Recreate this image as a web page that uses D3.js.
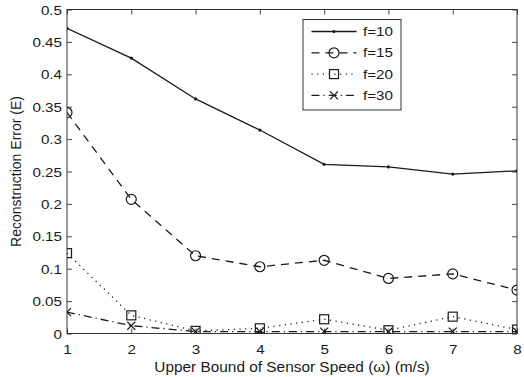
<!DOCTYPE html>
<html><head><meta charset="utf-8">
<script src="https://cdn.jsdelivr.net/npm/d3@7"></script>
<style>body{margin:0;background:#fff}svg{display:block}text{font-family:"Liberation Sans",Arial,Helvetica,sans-serif;fill:#1a1a1a}</style>
</head><body><svg id="c" width="524" height="377"></svg>
<script>
const xValues = [1, 2, 3, 4, 5, 6, 7, 8];
const f10 = [0.471, 0.425, 0.362, 0.314, 0.261, 0.257, 0.246, 0.251];
const f15 = [0.341, 0.207, 0.120, 0.103, 0.113, 0.085, 0.092, 0.067];
const f20 = [0.124, 0.028, 0.004, 0.008, 0.022, 0.005, 0.026, 0.006];
const f30 = [0.033, 0.012, 0.003, 0.003, 0.003, 0.003, 0.003, 0.003];
const seriesNames = ["f=10", "f=15", "f=20", "f=30"];
const xTicks = [1, 2, 3, 4, 5, 6, 7, 8];
const yTicks = [0, 0.05, 0.1, 0.15, 0.2, 0.25, 0.3, 0.35, 0.4, 0.45, 0.5];
const xLabel = "Upper Bound of Sensor Speed (\u03c9) (m/s)";
const yLabel = "Reconstruction Error (E)";

const series = [
  {name: seriesNames[0], values: f10, dash: null, marker: "dot"},
  {name: seriesNames[1], values: f15, dash: "8,6", marker: "circle"},
  {name: seriesNames[2], values: f20, dash: "1.2,4.5", marker: "square"},
  {name: seriesNames[3], values: f30, dash: "8,4,1.2,4", marker: "x"}
];

const L = 67, R = 517, T = 9.5, B = 333.5;
const SX = 1.17; // horizontal stretch of the reference's lettering
const svg = d3.select("#c");
const x = d3.scaleLinear().domain([1, 8]).range([L, R]);
const y = d3.scaleLinear().domain([0, 0.5]).range([B, T]);
const ink = "#1a1a1a";

svg.append("defs").append("clipPath").attr("id", "clip")
  .append("rect").attr("x", L).attr("y", T).attr("width", R - L).attr("height", B - T);

const fmt = d => d === 0 ? "0" : String(+d.toFixed(2));

// axes
const gx = svg.append("g").attr("transform", `translate(0,${B})`)
  .call(d3.axisBottom(x).tickValues(xTicks).tickSize(-5).tickPadding(11.5).tickFormat(d3.format("d")));
const gxt = svg.append("g").attr("transform", `translate(0,${T})`)
  .call(d3.axisTop(x).tickValues(xTicks).tickSize(-5).tickFormat(""));
const gy = svg.append("g").attr("transform", `translate(${L},0)`)
  .call(d3.axisLeft(y).tickValues(yTicks).tickSize(-5).tickPadding(5).tickFormat(fmt));
const gyr = svg.append("g").attr("transform", `translate(${R},0)`)
  .call(d3.axisRight(y).tickValues(yTicks).tickSize(-5).tickFormat(""));
[gx, gxt, gy, gyr].forEach(g => {
  g.select(".domain").remove();
  g.selectAll(".tick line").attr("stroke", "#333").attr("stroke-width", 0.9);
  g.selectAll("text").attr("font-size", 13).attr("fill", ink)
    .style("font-family", '"Liberation Sans",Arial,sans-serif');
});
gy.selectAll("text").attr("dy", "0.35em").attr("x", -5 / SX).attr("transform", `scale(${SX},1)`);
gx.selectAll("text").attr("dy", "0.71em").attr("transform", `scale(${SX},1)`);

svg.append("rect").attr("x", L).attr("y", T).attr("width", R - L).attr("height", B - T)
  .attr("fill", "none").attr("stroke", "#333").attr("stroke-width", 1);

// labels
svg.append("text").attr("transform", `translate(${(L + R) / 2},371.5) scale(1.1,1)`)
  .attr("text-anchor", "middle").attr("font-size", 14).text(xLabel);
svg.append("text").attr("transform", `translate(21,${(T + B) / 2}) rotate(-90)`)
  .attr("text-anchor", "middle").attr("font-size", 14).text(yLabel);

function drawMarker(g, type, cx, cy) {
  if (type === "dot") {
    g.append("circle").attr("cx", cx).attr("cy", cy).attr("r", 1.6).attr("fill", ink);
  } else if (type === "circle") {
    g.append("circle").attr("cx", cx).attr("cy", cy).attr("r", 5).attr("fill", "none")
      .attr("stroke", ink).attr("stroke-width", 1.2);
  } else if (type === "square") {
    g.append("rect").attr("x", cx - 4.5).attr("y", cy - 4.5).attr("width", 9).attr("height", 9)
      .attr("fill", "none").attr("stroke", ink).attr("stroke-width", 1.2);
  } else if (type === "x") {
    const s = 4;
    g.append("path").attr("d", `M${cx - s},${cy - s}L${cx + s},${cy + s}M${cx - s},${cy + s}L${cx + s},${cy - s}`)
      .attr("stroke", ink).attr("stroke-width", 1.2);
  }
}

const plot = svg.append("g").attr("clip-path", "url(#clip)");
const line = d3.line().x((d, i) => x(xValues[i])).y(d => y(d));
series.forEach(s => {
  plot.append("path").datum(s.values).attr("d", line).attr("fill", "none")
    .attr("stroke", ink).attr("stroke-width", 1.3)
    .attr("stroke-dasharray", s.dash);
  s.values.forEach((v, i) => drawMarker(plot, s.marker, x(xValues[i]), y(v)));
});

// legend
const lg = svg.append("g");
const lx = 303, ly = 19.5, lw = 98, lh = 90.5;
lg.append("rect").attr("x", lx).attr("y", ly).attr("width", lw).attr("height", lh)
  .attr("fill", "#fff").attr("stroke", "#333").attr("stroke-width", 1);
series.forEach((s, i) => {
  const yy = 31.5 + i * 21.3;
  lg.append("line").attr("x1", 311.5).attr("x2", 356.5).attr("y1", yy).attr("y2", yy)
    .attr("stroke", ink).attr("stroke-width", 1.3).attr("stroke-dasharray", s.dash);
  drawMarker(lg, s.marker, 334, yy);
  lg.append("text").attr("transform", `translate(363,${yy}) scale(${SX},1)`).attr("dy", "0.36em")
    .attr("font-size", 13).text(s.name);
});
</script></body></html>
